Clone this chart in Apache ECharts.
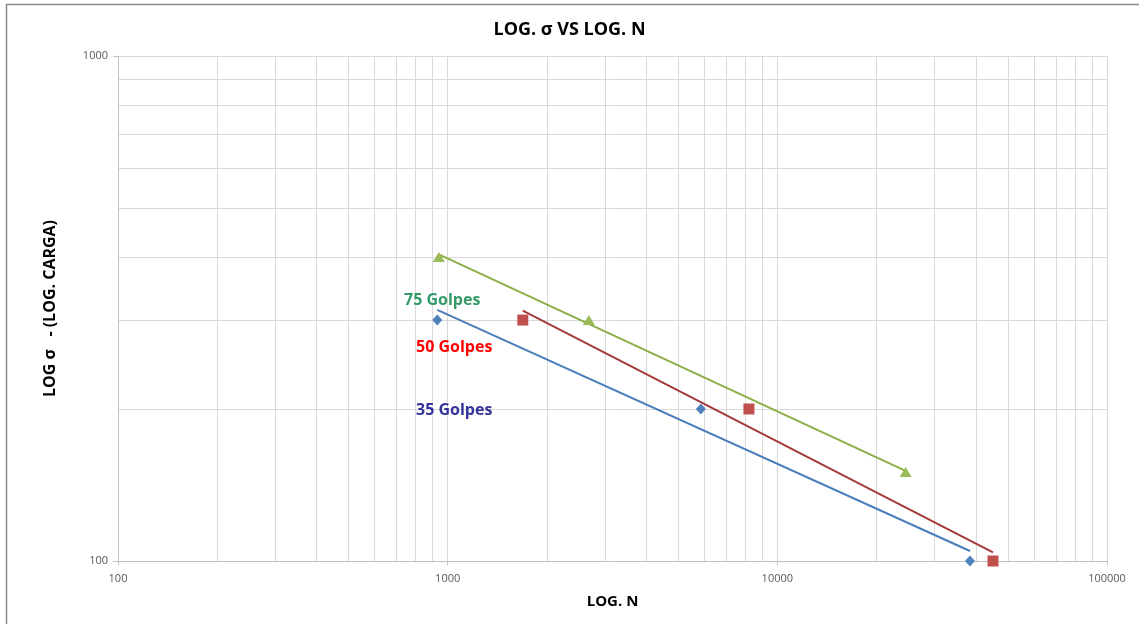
<!DOCTYPE html>
<html>
<head>
<meta charset="utf-8">
<script src="https://cdn.jsdelivr.net/npm/echarts@6/dist/echarts.min.js"></script>
<style>
  html, body { margin: 0; padding: 0; background: #fff; }
  #chart { width: 1139px; height: 624px; }
</style>
</head>
<body>
<div id="chart"></div>
<script>
// Fatigue test results: load (σ) against number of cycles (N), per compaction level
const golpes35N = [930, 5860, 38400];
const golpes35S = [300, 200, 100];
const golpes50N = [1690, 8200, 45100];
const golpes50S = [300, 200, 100];
const golpes75N = [940, 2680, 24500];
const golpes75S = [400, 300, 150];

// Minor gridline positions inside each decade
const minorX = [200, 300, 400, 500, 600, 700, 800, 900,
                2000, 3000, 4000, 5000, 6000, 7000, 8000, 9000,
                20000, 30000, 40000, 50000, 60000, 70000, 80000, 90000];
const minorY = [200, 300, 400, 500, 600, 700, 800, 900];

const FONT = '"Open Sans", "DejaVu Sans", sans-serif';

function pairs(xs, ys) { return xs.map((x, i) => [x, ys[i]]); }

// Power-law trend (least squares in log-log space), drawn over the data's N range
function powerTrend(xs, ys) {
  const lx = xs.map(Math.log10), ly = ys.map(Math.log10);
  const n = lx.length;
  const mx = lx.reduce((a, b) => a + b, 0) / n;
  const my = ly.reduce((a, b) => a + b, 0) / n;
  let sxy = 0, sxx = 0;
  for (let i = 0; i < n; i++) { sxy += (lx[i] - mx) * (ly[i] - my); sxx += (lx[i] - mx) ** 2; }
  const b = sxy / sxx, a = my - b * mx;
  const lo = Math.min(...xs), hi = Math.max(...xs);
  return [lo, hi].map(x => [x, Math.pow(10, a + b * Math.log10(x))]);
}

const chart = echarts.init(document.getElementById('chart'));

const gridColor = '#D9D9D9';
const labelStyle = { color: '#595959', fontSize: 11, fontFamily: FONT };

chart.setOption({
  animation: false,
  backgroundColor: '#fff',
  title: {
    text: 'LOG. σ VS LOG. N',
    left: 'center',
    top: 16,
    textStyle: { fontFamily: FONT, fontWeight: 'bold', fontSize: 18, color: '#000' }
  },
  grid: { left: 118, right: 32, top: 56, bottom: 63 },
  xAxis: {
    type: 'log', logBase: 10, min: 100, max: 100000,
    name: 'LOG. N', nameLocation: 'middle', nameGap: 33,
    nameTextStyle: { fontFamily: FONT, fontWeight: 'bold', fontSize: 15, color: '#000' },
    axisLine: { lineStyle: { color: '#BFBFBF' } },
    axisTick: { show: true, length: 4, lineStyle: { color: '#BFBFBF' } },
    axisLabel: Object.assign({ margin: 12, formatter: v => String(Math.round(v)) }, labelStyle),
    splitLine: { show: true, lineStyle: { color: gridColor } }
  },
  yAxis: {
    type: 'log', logBase: 10, min: 100, max: 1000,
    name: 'LOG σ   - (LOG. CARGA)', nameLocation: 'middle', nameGap: 60,
    nameTextStyle: { fontFamily: FONT, fontWeight: 'bold', fontSize: 16, color: '#000' },
    axisLine: { show: true, lineStyle: { color: '#BFBFBF' } },
    axisTick: { show: true, length: 5, lineStyle: { color: '#BFBFBF' } },
    axisLabel: Object.assign({ margin: 10, formatter: v => String(Math.round(v)) }, labelStyle),
    splitLine: { show: true, lineStyle: { color: gridColor } }
  },
  series: [
    {
      // minor gridlines, kept beneath the data
      type: 'line', data: [], silent: true, z: 0,
      markLine: {
        z: 0, silent: true, symbol: 'none', animation: false,
        label: { show: false },
        lineStyle: { color: gridColor, width: 1, type: 'solid' },
        data: minorX.map(v => ({ xAxis: v })).concat(minorY.map(v => ({ yAxis: v })))
      }
    },
    {
      name: '35 Golpes trend', type: 'line', data: powerTrend(golpes35N, golpes35S),
      symbol: 'none', lineStyle: { color: '#4A7EBB', width: 2 }, z: 6
    },
    {
      name: '50 Golpes trend', type: 'line', data: powerTrend(golpes50N, golpes50S),
      symbol: 'none', lineStyle: { color: '#A23B3A', width: 2 }, z: 6
    },
    {
      name: '75 Golpes trend', type: 'line', data: powerTrend(golpes75N, golpes75S),
      symbol: 'none', lineStyle: { color: '#8CAE46', width: 2 }, z: 6
    },
    {
      name: '35 Golpes', type: 'scatter', data: pairs(golpes35N, golpes35S),
      symbol: 'diamond', symbolSize: [10, 11], itemStyle: { color: '#4F81BD', opacity: 1 }, z: 7
    },
    {
      name: '50 Golpes', type: 'scatter', data: pairs(golpes50N, golpes50S),
      symbol: 'rect', symbolSize: 11, itemStyle: { color: '#C0504D', opacity: 1 }, z: 7
    },
    {
      name: '75 Golpes', type: 'scatter', data: pairs(golpes75N, golpes75S),
      symbol: 'triangle', symbolSize: [12, 10], itemStyle: { color: '#9BBB59', opacity: 1 }, z: 7
    }
  ],
  graphic: [
    {
      type: 'rect', silent: true, z: -1,
      shape: { x: 6.5, y: 4.5, width: 1300, height: 800 },
      style: { fill: null, stroke: '#8C8C8C', lineWidth: 1.5 }
    },
    {
      type: 'text', left: 404, top: 292, z: 10,
      style: { text: '75 Golpes', fill: '#339966', font: 'bold 16px ' + FONT }
    },
    {
      type: 'text', left: 416, top: 339, z: 10,
      style: { text: '50 Golpes', fill: '#FF0000', font: 'bold 16px ' + FONT }
    },
    {
      type: 'text', left: 416, top: 402, z: 10,
      style: { text: '35 Golpes', fill: '#333399', font: 'bold 16px ' + FONT }
    }
  ]
});
</script>
</body>
</html>
